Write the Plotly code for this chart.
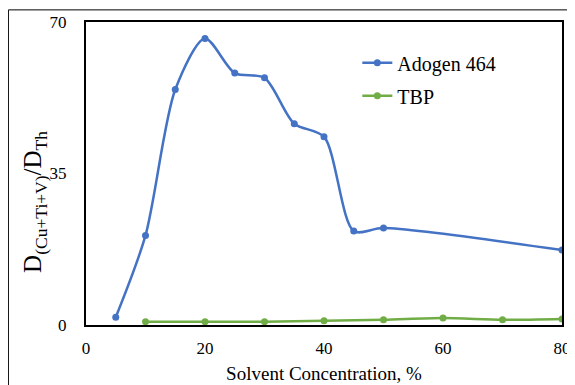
import plotly.graph_objects as go

adogen_x = [5, 10, 15, 20, 25, 30, 35, 40, 45, 50, 80]
adogen_y = [1.8, 20.7, 54.4, 66.2, 58.2, 57.1, 46.5, 43.5, 21.7, 22.4, 17.3]
tbp_x = [10, 20, 30, 40, 50, 60, 70, 80]
tbp_y = [0.76, 0.76, 0.76, 1.0, 1.2, 1.6, 1.2, 1.4]
x_ticks = [0, 20, 40, 60, 80]
y_ticks = [0, 35, 70]

font = "Liberation Serif, Times New Roman, serif"

fig = go.Figure()
fig.add_trace(go.Scatter(x=adogen_x, y=adogen_y, name="Adogen 464", mode="lines+markers",
                         legendgroup="a",
                         line=dict(color="#4472C4", width=2.5, shape="spline", smoothing=0.8),
                         marker=dict(size=7, color="#4472C4")))
fig.add_trace(go.Scatter(x=tbp_x, y=tbp_y, name="TBP", mode="lines+markers",
                         legendgroup="b",
                         line=dict(color="#70AD47", width=2.5, shape="spline", smoothing=0.8),
                         marker=dict(size=7, color="#70AD47")))

fig.update_layout(
    width=567, height=377,
    margin=dict(l=78, r=13, t=14, b=60, autoexpand=False),
    paper_bgcolor="white", plot_bgcolor="white",
    font=dict(family=font, size=17, color="black"),
    showlegend=True,
    legend=dict(x=0.57, y=0.93, xanchor="left", yanchor="top", bgcolor="rgba(0,0,0,0)",
                font=dict(size=20, family=font), itemwidth=30, tracegroupgap=4),
    xaxis=dict(range=[0, 80], tickvals=x_ticks, showgrid=False, zeroline=False,
               showline=True, linecolor="black", linewidth=2, mirror=True,
               ticks="", ticklabelstandoff=7, automargin=False,
               title=dict(text="Solvent Concentration, %", standoff=9, font=dict(size=19))),
    yaxis=dict(range=[0, 70], tickvals=y_ticks, showgrid=False, zeroline=False,
               showline=True, linecolor="black", linewidth=2, mirror=True,
               ticks="", ticklabelstandoff=14, automargin=False),
)

fig.add_annotation(text="D<sub>(Cu+Ti+V)</sub>/D<sub>Th</sub>", textangle=-90,
                   xref="paper", yref="paper", x=-0.108, y=0.405,
                   xanchor="center", yanchor="middle", showarrow=False,
                   font=dict(size=25, family=font, color="black"))

fig.add_shape(type="rect", xref="paper", yref="paper",
              x0=-0.163, x1=1.1, y0=-0.3, y1=1.04,
              line=dict(color="black", width=1), fillcolor="rgba(0,0,0,0)", layer="below")

fig.write_html("out.html")
